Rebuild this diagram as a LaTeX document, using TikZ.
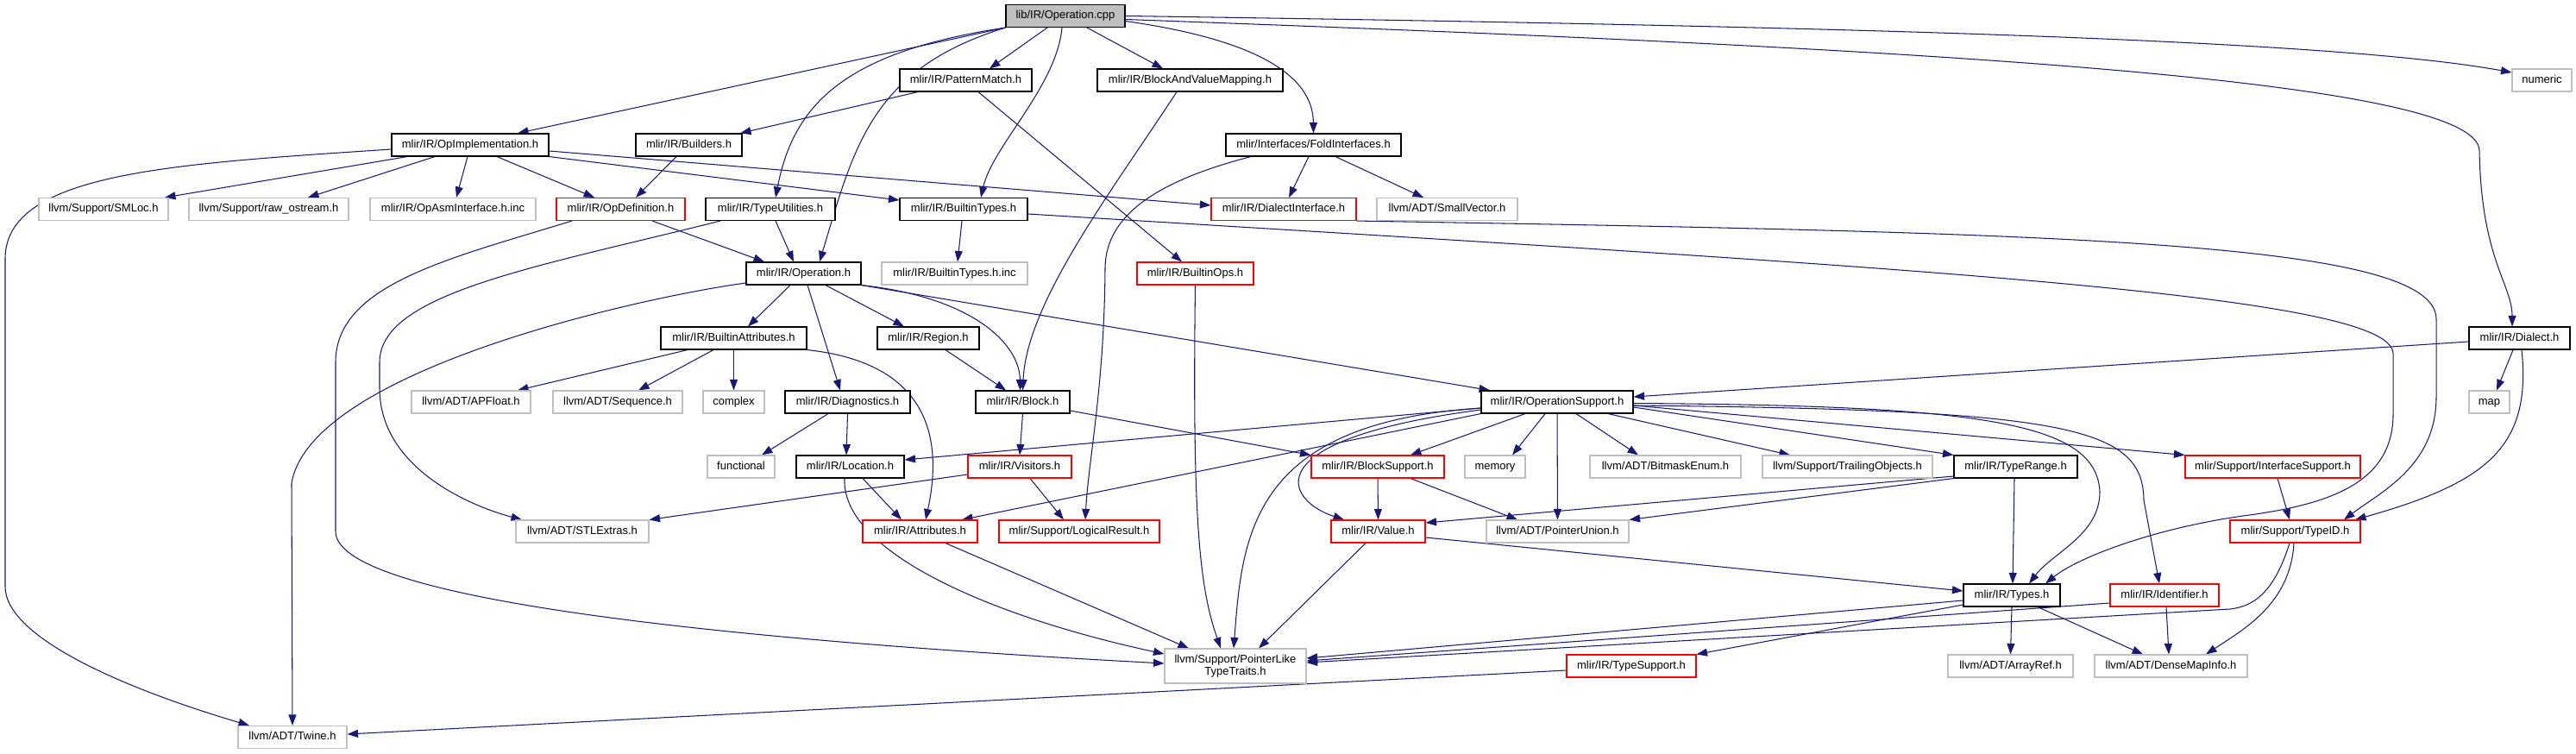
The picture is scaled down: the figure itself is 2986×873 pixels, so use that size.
\documentclass[tikz,border=0pt]{standalone}
\usepackage{fontspec}
\setmainfont{Liberation Sans}
\usetikzlibrary{arrows.meta,backgrounds}
\definecolor{edgeblue}{HTML}{191970}
\definecolor{gbord}{HTML}{BFBFBF}
\definecolor{rootgray}{HTML}{BFBFBF}
\tikzset{
  box/.style={rectangle, inner sep=0pt, minimum height=26pt, line width=1.1pt,
    font=\fontsize{13}{15}\selectfont, text height=9.5pt, text depth=2.7pt},
  doc/.style={box, draw=black, fill=white},
  ext/.style={box, draw=gbord, fill=white},
  trn/.style={box, draw=red, fill=white},
  rootbox/.style={box, draw=black, fill=rootgray},
  extmulti/.style={rectangle, inner sep=0pt, line width=1.1pt, draw=gbord, fill=white,
    font=\fontsize{13}{14}\selectfont, align=center},
  e/.style={draw=edgeblue, line width=1.05pt, -{Triangle[length=12.5pt,width=9pt]}}
}
\begin{document}
\begin{tikzpicture}[x=1pt,y=-1pt]
\useasboundingbox (0,0) rectangle (2986,873);
% row 0
\node[rootbox, minimum width=138pt] (root) at (1235,18.5) {lib/IR/Operation.cpp};
% row 1
\node[doc, minimum width=153pt] (pattern) at (1119.5,93) {mlir/IR/PatternMatch.h};
\node[doc, minimum width=215pt] (bavm) at (1379.5,93) {mlir/IR/BlockAndValueMapping.h};
\node[ext, minimum width=69pt] (numeric) at (2946.5,93) {numeric};
% row 2
\node[doc, minimum width=182pt] (opimpl) at (545,168) {mlir/IR/OpImplementation.h};
\node[doc, minimum width=123pt] (builders) at (798.5,168) {mlir/IR/Builders.h};
\node[doc, minimum width=203pt] (fold) at (1522.5,168) {mlir/Interfaces/FoldInterfaces.h};
% row 3
\node[ext, minimum width=150pt] (smloc) at (120,242.5) {llvm/Support/SMLoc.h};
\node[ext, minimum width=185pt] (rawos) at (311.5,242.5) {llvm/Support/raw\_ostream.h};
\node[ext, minimum width=192pt] (opasm) at (525,242.5) {mlir/IR/OpAsmInterface.h.inc};
\node[trn, minimum width=149pt] (opdef) at (719.5,242.5) {mlir/IR/OpDefinition.h};
\node[doc, minimum width=150pt] (typeutil) at (893,242.5) {mlir/IR/TypeUtilities.h};
\node[doc, minimum width=148pt] (btypes) at (1117,242.5) {mlir/IR/BuiltinTypes.h};
\node[trn, minimum width=168pt] (dialint) at (1488,242.5) {mlir/IR/DialectInterface.h};
\node[ext, minimum width=163pt] (smallvec) at (1677.5,242.5) {llvm/ADT/SmallVector.h};
% row 4
\node[doc, minimum width=133pt] (oph) at (931.5,317) {mlir/IR/Operation.h};
\node[ext, minimum width=169pt] (btinc) at (1106.5,317) {mlir/IR/BuiltinTypes.h.inc};
\node[trn, minimum width=135pt] (bops) at (1385.5,317) {mlir/IR/BuiltinOps.h};
% row 5
\node[doc, minimum width=169pt] (battr) at (850.5,392) {mlir/IR/BuiltinAttributes.h};
\node[doc, minimum width=118pt] (region) at (1076,392) {mlir/IR/Region.h};
\node[doc, minimum width=117pt] (dialect) at (2920.5,392) {mlir/IR/Dialect.h};
% row 6
\node[ext, minimum width=138pt] (apfloat) at (546,466) {llvm/ADT/APFloat.h};
\node[ext, minimum width=150pt] (sequence) at (716,466) {llvm/ADT/Sequence.h};
\node[ext, minimum width=71pt] (complex) at (850.5,466) {complex};
\node[doc, minimum width=145pt] (diag) at (982.5,466) {mlir/IR/Diagnostics.h};
\node[doc, minimum width=109pt] (block) at (1185.5,466) {mlir/IR/Block.h};
\node[doc, minimum width=176pt] (opsup) at (1805,466) {mlir/IR/OperationSupport.h};
\node[ext, minimum width=47pt] (map) at (2885.5,466) {map};
% row 7
\node[ext, minimum width=78pt] (functional) at (859,541) {functional};
\node[doc, minimum width=125pt] (location) at (985.5,541) {mlir/IR/Location.h};
\node[trn, minimum width=120pt] (visitors) at (1182,541) {mlir/IR/Visitors.h};
\node[trn, minimum width=154pt] (blocksup) at (1597,541) {mlir/IR/BlockSupport.h};
\node[ext, minimum width=70pt] (memory) at (1733,541) {memory};
\node[ext, minimum width=175pt] (bitmask) at (1930.5,541) {llvm/ADT/BitmaskEnum.h};
\node[ext, minimum width=197pt] (trailing) at (2141.5,541) {llvm/Support/TrailingObjects.h};
\node[doc, minimum width=143pt] (typerange) at (2336.5,541) {mlir/IR/TypeRange.h};
\node[trn, minimum width=203pt] (ifsup) at (2634.5,541) {mlir/Support/InterfaceSupport.h};
% row 8
\node[ext, minimum width=154pt] (stlextras) at (675,616) {llvm/ADT/STLExtras.h};
\node[trn, minimum width=133pt] (attrs) at (1066.5,616) {mlir/IR/Attributes.h};
\node[trn, minimum width=186pt] (logical) at (1251,616) {mlir/Support/LogicalResult.h};
\node[trn, minimum width=109pt] (value) at (1597.5,616) {mlir/IR/Value.h};
\node[ext, minimum width=165pt] (punion) at (1805.5,616) {llvm/ADT/PointerUnion.h};
\node[trn, minimum width=151pt] (typeid) at (2660.5,616) {mlir/Support/TypeID.h};
% row 9
\node[doc, minimum width=112pt] (types) at (2332,690) {mlir/IR/Types.h};
\node[trn, minimum width=126pt] (ident) at (2509,690) {mlir/IR/Identifier.h};
% row 10
\node[extmulti, minimum width=164pt, minimum height=40pt] (plike) at (1432,772) {llvm/Support/PointerLike\\TypeTraits.h};
\node[trn, minimum width=150pt] (typesup) at (1891,772) {mlir/IR/TypeSupport.h};
\node[ext, minimum width=145pt] (arrayref) at (2330.5,772) {llvm/ADT/ArrayRef.h};
\node[ext, minimum width=177pt] (densemap) at (2516.5,772) {llvm/ADT/DenseMapInfo.h};
% row 11
\node[ext, minimum width=126pt] (twine) at (339,854.5) {llvm/ADT/Twine.h};

\begin{pgfonlayer}{background}
% from root
\draw[e] (root.south west) -- ([xshift=55pt]opimpl.north);
\draw[e] ([xshift=-21pt]root.south) -- ([xshift=27.5pt]pattern.north);
\draw[e] ([xshift=25pt]root.south) -- ([xshift=-31.5pt]bavm.north);
\draw[e] ([yshift=-6pt]root.east) .. controls (1450,45) and (1522,85) .. (fold.north);
\draw[e] (root.east) .. controls (2100,30) and (2700,45) .. ([yshift=9pt]numeric.west);
\draw[e] ([yshift=-4pt]root.east) .. controls (2200,55) and (2874,90) .. (2874,175) .. controls (2876,300) and (2912,330) .. ([xshift=-8.5pt]dialect.north);
\draw[e] (root.south west) .. controls (980,60) and (920,120) .. ([xshift=6pt]typeutil.north);
\draw[e] (root.south west) .. controls (1010,80) and (990,170) .. ([xshift=18.5pt]oph.north);
\draw[e] ([xshift=-4pt]root.south) .. controls (1225,100) and (1150,170) .. ([xshift=20pt]btypes.north);
% row 1
\draw[e] ([xshift=-55.5pt]pattern.south) -- ([xshift=59.5pt]builders.north);
\draw[e] ([xshift=14.5pt]pattern.south) -- ([xshift=-15.5pt]bops.north);
\draw[e] ([xshift=-15.5pt]bavm.south) .. controls (1290,220) and (1190,350) .. (block.north);
% row 2
\draw[e] ([xshift=-5.5pt]fold.south) -- ([xshift=6pt]dialint.north);
\draw[e] ([xshift=25.5pt]fold.south) -- ([xshift=-27.5pt]smallvec.north);
\draw[e] ([xshift=-72.5pt]fold.south) .. controls (1340,210) and (1282,250) .. (1281,310) .. controls (1280,450) and (1262,530) .. ([xshift=7pt]logical.north);
\draw[e] ([xshift=-73pt]opimpl.south) -- ([xshift=71pt]smloc.north);
\draw[e] ([xshift=-41pt]opimpl.south) -- ([xshift=45.5pt]rawos.north);
\draw[e] ([xshift=-3pt]opimpl.south) -- ([xshift=4pt]opasm.north);
\draw[e] ([xshift=31pt]opimpl.south) -- ([xshift=-30.5pt]opdef.north);
\draw[e] ([yshift=-5pt]opimpl.west) .. controls (200,190) and (6,200) .. (6,300) -- (6,680) .. controls (6,740) and (150,800) .. ([xshift=-50pt]twine.north);
\draw[e] ([yshift=-7pt]opimpl.east) -- ([yshift=4.5pt]dialint.west);
\draw[e] (opimpl.south east) -- ([yshift=10.5pt]btypes.west);
\draw[e] ([xshift=-14.5pt]builders.south) -- ([xshift=17.5pt]opdef.north);
% row 3
\draw[e] ([xshift=36.5pt]opdef.south) -- ([xshift=-45.5pt]oph.north);
\draw[e] ([xshift=-56.5pt]opdef.south) .. controls (520,300) and (389,330) .. (389,420) -- (389,616) .. controls (389,700) and (900,745) .. ([yshift=3pt]plike.west);
\draw[e] ([xshift=6pt]typeutil.south) -- ([xshift=-11.5pt]oph.north);
\draw[e] ([xshift=-58pt]typeutil.south) .. controls (620,310) and (440,340) .. (440,420) -- (440,450) .. controls (440,540) and (540,585) .. ([xshift=-70pt]stlextras.north);
\draw[e] ([xshift=-2pt]btypes.south) -- ([xshift=3.5pt]btinc.north);
\draw[e] ([yshift=-5.5pt]btypes.east) .. controls (2200,310) and (2774,340) .. (2774,410) -- (2774,480) .. controls (2774,560) and (2700,585) .. (2600,598) .. controls (2500,612) and (2410,645) .. ([xshift=39pt]types.north);
\draw[e] (dialint.south east) .. controls (2400,270) and (2824,280) .. (2824,370) -- (2824,460) .. controls (2824,540) and (2760,570) .. ([xshift=56.5pt]typeid.north);
% row 4
\draw[e] ([xshift=-15.5pt]oph.south) -- ([xshift=16.5pt]battr.north);
\draw[e] ([xshift=4.5pt]oph.south) -- ([xshift=-8.5pt]diag.north);
\draw[e] ([xshift=25.5pt]oph.south) -- ([xshift=-28pt]region.north);
\draw[e] (oph.south east) .. controls (1130,345) and (1182,400) .. ([xshift=-3pt]block.north);
\draw[e] (oph.south east) -- ([xshift=-78pt]opsup.north);
\draw[e] ([yshift=-11pt]oph.west) .. controls (740,345) and (360,430) .. (338,560) -- (twine.north);
\draw[e] (bops.south) .. controls (1382,600) and (1390,680) .. ([xshift=-17pt]plike.north);
% row 5
\draw[e] ([xshift=-53.5pt]battr.south) -- ([xshift=54pt]apfloat.north);
\draw[e] ([xshift=-23.5pt]battr.south) -- ([xshift=24pt]sequence.north);
\draw[e] (battr.south) -- (complex.north);
\draw[e] (battr.south east) .. controls (1070,420) and (1095,500) .. ([xshift=6.5pt]attrs.north);
\draw[e] ([xshift=20pt]region.south) -- ([xshift=-19.5pt]block.north);
\draw[e] ([yshift=-4pt]dialect.west) -- ([yshift=6pt]opsup.east);
\draw[e] ([xshift=-7.5pt]dialect.south) -- ([xshift=8.5pt]map.north);
\draw[e] ([xshift=2.5pt]dialect.south) .. controls (2935,520) and (2880,560) .. ([xshift=69.5pt]typeid.north);
% row 6
\draw[e] ([xshift=-22.5pt]diag.south) -- ([xshift=24pt]functional.north);
\draw[e] (diag.south) -- ([xshift=-4.5pt]location.north);
\draw[e] (block.south) -- (visitors.north);
\draw[e] ([yshift=-10pt]block.east) -- (blocksup.north west);
\draw[e] ([yshift=-7pt]opsup.west) -- ([yshift=8pt]location.east);
\draw[e] ([xshift=-37pt]opsup.south) -- ([xshift=38pt]blocksup.north);
\draw[e] ([xshift=-14pt]opsup.south) -- ([xshift=20pt]memory.north);
\draw[e] ([xshift=22pt]opsup.south) -- ([xshift=-31.5pt]bitmask.north);
\draw[e] ([xshift=59pt]opsup.south) -- ([xshift=-66.5pt]trailing.north);
\draw[e] ([yshift=-6pt]opsup.east) -- (typerange.north west);
\draw[e] ([yshift=-4pt]opsup.east) -- (ifsup.north west);
\draw[e] (opsup.south west) -- ([xshift=48.5pt]attrs.north);
\draw[e] ([yshift=-7pt]opsup.west) .. controls (1450,490) and (1440,620) .. ([xshift=-2pt]plike.north);
\draw[e] ([yshift=-9pt]opsup.west) .. controls (1450,510) and (1490,580) .. ([xshift=-39.5pt]value.north);
\draw[e] (opsup.south) -- (punion.north);
\draw[e] ([yshift=-1.5pt]opsup.east) .. controls (2300,470) and (2430,490) .. (2434,570) .. controls (2434,620) and (2380,640) .. ([xshift=20pt]types.north);
\draw[e] ([yshift=-4pt]opsup.east) .. controls (2400,475) and (2484,495) .. (2485,580) -- ([xshift=-6pt]ident.north);
% row 7
\draw[e] ([xshift=14.5pt]location.south) -- ([xshift=-21.5pt]attrs.north);
\draw[e] ([xshift=-6.5pt]location.south) .. controls (975,640) and (1150,715) .. ([yshift=14pt]plike.west);
\draw[e] ([yshift=-9pt]visitors.west) -- (stlextras.north east);
\draw[e] ([xshift=12pt]visitors.south) -- ([xshift=-18pt]logical.north);
\draw[e] (blocksup.south) -- (value.north);
\draw[e] ([xshift=38pt]blocksup.south) -- ([xshift=-46.5pt]punion.north);
\draw[e] ([yshift=-11pt]typerange.west) -- ([yshift=10pt]value.east);
\draw[e] (typerange.south west) -- (punion.north east);
\draw[e] ([xshift=-1.5pt]typerange.south) -- ([xshift=1pt]types.north);
\draw[e] ([xshift=5.5pt]ifsup.south) -- ([xshift=-6.5pt]typeid.north);
% row 8
\draw[e] ([xshift=29.5pt]attrs.south) -- ([xshift=-54pt]plike.north);
\draw[e] ([xshift=-14.5pt]value.south) -- ([xshift=27pt]plike.north);
\draw[e] ([yshift=-7pt]value.east) -- ([yshift=5pt]types.west);
\draw[e] ([xshift=-6.5pt]typeid.south) .. controls (2635,690) and (2610,703) .. (2585,706) -- ([yshift=4pt]plike.east);
\draw[e] ([xshift=-1.5pt]typeid.south) .. controls (2655,700) and (2600,730) .. ([xshift=40.5pt]densemap.north);
% row 9
\draw[e] ([yshift=-6pt]types.west) -- ([yshift=9pt]plike.east);
\draw[e] (types.south) -- (arrayref.north);
\draw[e] ([xshift=30pt]types.south) -- ([xshift=-32.5pt]densemap.north);
\draw[e] ([yshift=-11pt]types.west) -- (typesup.north east);
\draw[e] ([yshift=-9pt]ident.west) -- ([yshift=6pt]plike.east);
\draw[e] ([xshift=2pt]ident.south) -- ([xshift=-2.5pt]densemap.north);
% row 10
\draw[e] ([yshift=-5pt]typesup.west) -- ([yshift=3.5pt]twine.east);
\end{pgfonlayer}
\end{tikzpicture}
\end{document}
